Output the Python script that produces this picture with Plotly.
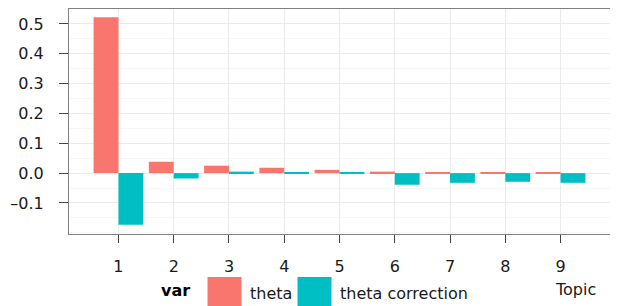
import plotly.graph_objects as go

topics = [1, 2, 3, 4, 5, 6, 7, 8, 9]
theta = [0.522, 0.038, 0.025, 0.018, 0.011, 0.005, 0.002, 0.002, 0.002]
theta_correction = [-0.173, -0.018, 0.005, 0.003, 0.002, -0.039, -0.0325, -0.029, -0.0325]
series_names = ["theta", "theta correction"]
series_colors = ["#F8766D", "#00BFC4"]
y_ticks = [-0.1, 0.0, 0.1, 0.2, 0.3, 0.4, 0.5]
y_tick_labels = ["\u20130.1", "0.0", "0.1", "0.2", "0.3", "0.4", "0.5"]

FONT = "DejaVu Sans"
OFF = 8  # page body margin offset
W, H = 618 - OFF, 306 - OFF
# target plot area in page pixels: x 69..610, y 9..234
L, R, T, B = 69 - OFF, 618 - 610, 9 - OFF, 306 - 234
PW, PH = W - L - R, H - T - B

def px_x(px):
    return (px - OFF - L) / PW

def px_y(py):
    return (H - B - (py - OFF)) / PH

fig = go.Figure()
for name, vals, col in zip(series_names, [theta, theta_correction], series_colors):
    fig.add_trace(go.Bar(x=topics, y=vals, name=name, marker=dict(color=col, line=dict(width=0)),
                         showlegend=False))

fig.update_layout(
    width=W, height=H,
    margin=dict(l=L, r=R, t=T, b=B, autoexpand=False),
    paper_bgcolor="white", plot_bgcolor="white",
    barmode="group", bargap=0.1, bargroupgap=0,
    font=dict(family=FONT, size=16, color="#1a1a1a"),
)
fig.update_xaxes(
    automargin=False,
    range=[0.105, 9.895], tickvals=topics, ticktext=[str(t) for t in topics],
    showgrid=True, gridcolor="#ebebeb", gridwidth=1,
    zeroline=False, showline=True, mirror=True, linecolor="#808080", linewidth=1,
    ticks="outside", ticklen=8, tickwidth=1, tickcolor="#444444",
    tickfont=dict(family=FONT, size=16, color="#1a1a1a"),
    ticklabelstandoff=10,
)
fig.update_yaxes(
    automargin=False,
    range=[-0.204, 0.550], tickvals=y_ticks, ticktext=y_tick_labels,
    showgrid=True, gridcolor="#ebebeb", gridwidth=1,
    minor=dict(dtick=0.05, tick0=0, showgrid=True, gridcolor="#f6f6f6", gridwidth=1),
    zeroline=False, showline=True, mirror=True, linecolor="#808080", linewidth=1,
    ticks="outside", ticklen=9, tickwidth=1, tickcolor="#444444",
    tickfont=dict(family=FONT, size=16, color="#1a1a1a"),
    ticklabelstandoff=12,
)

# legend (drawn manually to match large keys)
ann = []
ann.append(dict(text="<b>var</b>", x=px_x(175), y=px_y(290), xref="paper", yref="paper",
                xanchor="center", yanchor="middle", showarrow=False,
                font=dict(family=FONT, size=16, color="#000000")))
key_left = [207.5, 297.5]
text_left = [247.5, 337.5]
shapes = []
for name, col, kl, tl in zip(series_names, series_colors, key_left, text_left):
    shapes.append(dict(type="rect", xref="paper", yref="paper", x0=px_x(kl), x1=px_x(kl + 34),
                       y0=px_y(277), y1=px_y(311), fillcolor=col, line=dict(width=0), layer="above"))
    ann.append(dict(text=name, x=px_x(tl), y=px_y(293), xref="paper", yref="paper",
                    xanchor="left", yanchor="middle", showarrow=False,
                    font=dict(family=FONT, size=16, color="#1a1a1a")))
ann.append(dict(text="Topic", x=px_x(598), y=px_y(289), xref="paper", yref="paper",
                xanchor="right", yanchor="middle", showarrow=False,
                font=dict(family=FONT, size=16, color="#1a1a1a")))
fig.update_layout(annotations=ann, shapes=shapes)

fig.write_html("out.html")
